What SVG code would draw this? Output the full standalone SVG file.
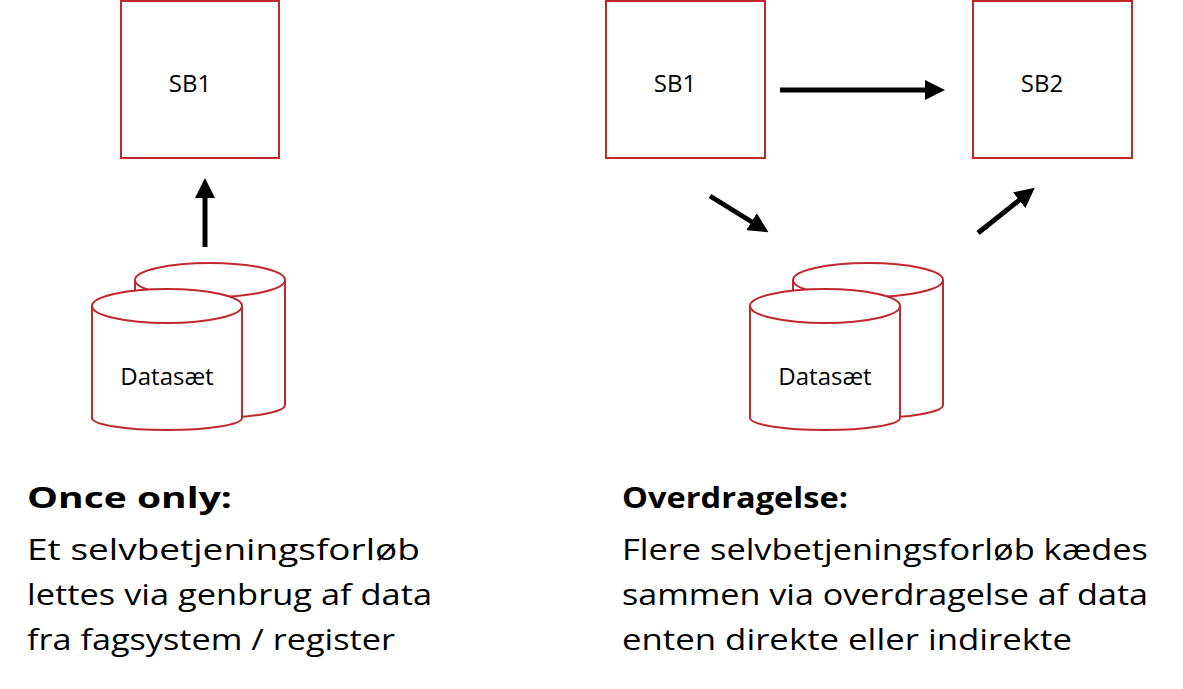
<svg xmlns="http://www.w3.org/2000/svg" width="1183" height="689" viewBox="0 0 1183 689">
<style>
.b{fill:#fff;stroke:#c0282e;stroke-width:2}
.l{font-family:"Open Sans","Liberation Sans",sans-serif;font-size:24px;fill:#000;text-anchor:middle}
.t{font-family:"Open Sans","Liberation Sans",sans-serif;font-size:29px;fill:#000}
.a{stroke:#000;stroke-width:5;fill:none;marker-end:url(#h)}
</style>
<defs>
<marker id="h" markerWidth="4" markerHeight="4" refX="2" refY="2" orient="auto" markerUnits="strokeWidth"><path d="M0,0L4,2L0,4z" fill="#000"/></marker>
<g id="cyl">
<path class="b" d="M135,280 A75,17 0 0 1 285,280 L285,405 A75,13 0 0 1 135,405 Z"/>
<path class="b" d="M135,280 A75,17 0 0 0 285,280"/>
<path class="b" d="M92,306 A75,17 0 0 1 242,306 L242,418 A75,12 0 0 1 92,418 Z"/>
<path class="b" d="M92,306 A75,17 0 0 0 242,306"/>
</g>
</defs>
<g id="sb1a"><rect class="b" x="121" y="1" width="158" height="157"/><text class="l" x="190" y="92">SB1</text></g>
<g id="ds1"><use href="#cyl"/><text class="l" x="167" y="385">Datasæt</text></g>
<g id="sb1b"><rect class="b" x="606" y="1" width="159" height="157"/><text class="l" x="675" y="92">SB1</text></g>
<g id="sb2"><rect class="b" x="973" y="1" width="159" height="157"/><text class="l" x="1042" y="92">SB2</text></g>
<g id="ds2"><use href="#cyl" x="658"/><text class="l" x="825" y="385">Datasæt</text></g>
<g id="connectors">
<line class="a" x1="205" y1="247" x2="205" y2="188"/>
<line class="a" x1="780" y1="90" x2="935" y2="90"/>
<line class="a" x1="710" y1="196" x2="760" y2="227"/>
<line class="a" x1="978" y1="233" x2="1027" y2="194"/>
</g>
<g id="captions">
<text class="t" x="27" y="508" font-weight="bold" textLength="205" lengthAdjust="spacingAndGlyphs">Once only:</text>
<text class="t" x="27" y="560" textLength="393" lengthAdjust="spacingAndGlyphs">Et selvbetjeningsforløb</text>
<text class="t" x="27" y="605" textLength="405" lengthAdjust="spacingAndGlyphs">lettes via genbrug af data</text>
<text class="t" x="27" y="650" textLength="368" lengthAdjust="spacingAndGlyphs">fra fagsystem / register</text>
<text class="t" x="622" y="508" font-weight="bold" textLength="226" lengthAdjust="spacingAndGlyphs">Overdragelse:</text>
<text class="t" x="622" y="560" textLength="526" lengthAdjust="spacingAndGlyphs">Flere selvbetjeningsforløb kædes</text>
<text class="t" x="622" y="605" textLength="526" lengthAdjust="spacingAndGlyphs">sammen via overdragelse af data</text>
<text class="t" x="622" y="650" textLength="450" lengthAdjust="spacingAndGlyphs">enten direkte eller indirekte</text>
</g>
</svg>
